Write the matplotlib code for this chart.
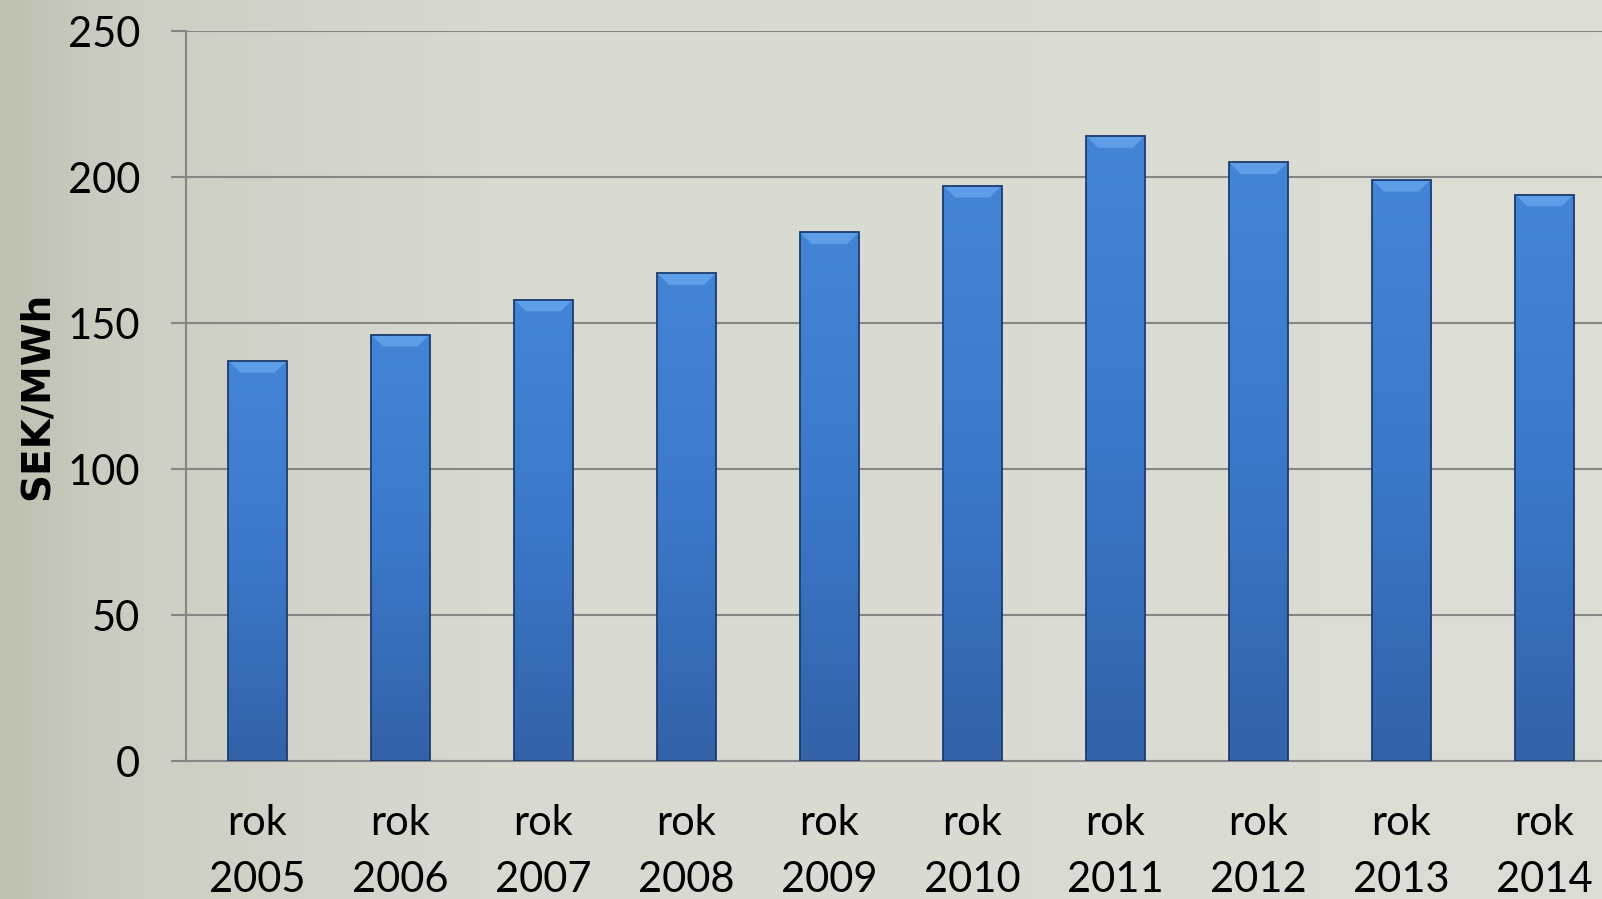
import numpy as np
import matplotlib
matplotlib.use("Agg")
import matplotlib.pyplot as plt
from matplotlib.colors import LinearSegmentedColormap
from matplotlib.patches import Polygon

# data
years = ["2005", "2006", "2007", "2008", "2009", "2010", "2011", "2012", "2013", "2014"]
prices = [137, 146, 158, 167, 181, 197, 214, 205, 199, 194]
labels = ["rok\n" + y for y in years]
yticks = [0, 50, 100, 150, 200, 250]

fig = plt.figure(figsize=(16.02, 8.99), dpi=100)

# background (photo replaced by a soft gradient)
bg = fig.add_axes([0, 0, 1, 1], zorder=-10)
bg_cmap = LinearSegmentedColormap.from_list(
    "bg", [(0.0, "#bdbfb0"), (0.06, "#cbccc1"), (0.3, "#d8d9d1"), (1.0, "#dcddd5")])
bg.imshow(np.linspace(0, 1, 256).reshape(1, -1), cmap=bg_cmap, aspect="auto",
          extent=[0, 1, 0, 1])
bg.set_axis_off()

ax = fig.add_axes([0.1161, 0.1535, 0.8926, 0.812])
ax.patch.set_alpha(0)

x = np.arange(len(years))
w = 0.41
bars = ax.bar(x, prices, width=w, color="#3a74c6", edgecolor="none", zorder=3)

# vertical gradient in each bar + bevel on top
bar_cmap = LinearSegmentedColormap.from_list("bar", ["#3362a8", "#3b78c9", "#4484d6"])
grad = np.linspace(0, 1, 256).reshape(-1, 1)
for xi, h, b in zip(x, prices, bars):
    im = ax.imshow(grad, cmap=bar_cmap, origin="lower", aspect="auto",
                   extent=[xi - w / 2, xi + w / 2, 0, h], zorder=3)
    im.set_clip_path(b)
    dx, dy = 0.085, 4.0
    bevel = Polygon([[xi - w / 2, h], [xi + w / 2, h], [xi + w / 2 - dx, h - dy],
                     [xi - w / 2 + dx, h - dy]], closed=True,
                    facecolor="#5e9ee8", edgecolor="none", zorder=4)
    ax.add_patch(bevel)

# outlines on top
ax.bar(x, prices, width=w, fill=False, edgecolor="#1c3c6e", linewidth=1.3, zorder=5)

ax.set_xlim(-0.5, len(years) - 0.5)
ax.set_ylim(0, 250)
ax.set_yticks(yticks)
ax.set_xticks(x)
ax.set_xticklabels(labels, fontsize=30, family="Lato", linespacing=1.62)
ax.set_yticklabels([str(t) for t in yticks], fontsize=30, family="Lato")

ax.yaxis.grid(True, color="#858585", linewidth=1.5, zorder=0)
ax.set_axisbelow(True)
ax.tick_params(axis="y", length=11, width=1.5, color="#858585", pad=22)
ax.tick_params(axis="x", length=0, pad=31)

for s in ["top", "right"]:
    ax.spines[s].set_visible(False)
ax.spines["left"].set_color("#858585")
ax.spines["left"].set_linewidth(1.5)
ax.spines["bottom"].set_color("#858585")
ax.spines["bottom"].set_linewidth(1.5)

ax.set_ylabel("SEK/MWh", fontsize=28, fontweight="bold", family="DejaVu Sans")
ax.yaxis.set_label_coords(-0.091, 0.5)

fig.savefig("out.png", dpi=100)
